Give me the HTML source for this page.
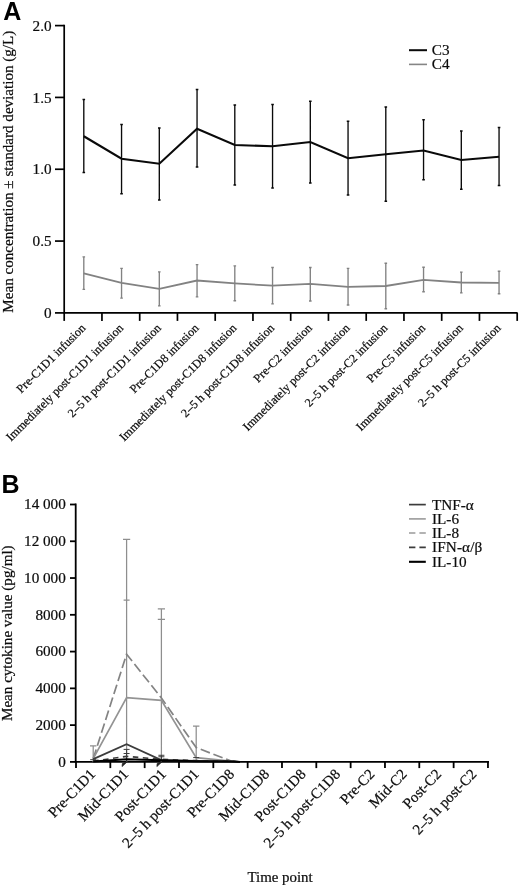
<!DOCTYPE html><html><head><meta charset="utf-8"><title>Figure</title>
<style>html,body{margin:0;padding:0;background:#fff}body{width:520px;height:886px;overflow:hidden}svg{display:block;will-change:transform;transform:translateZ(0)}text{font-family:"Liberation Serif",serif;fill:#0c0c0c;stroke:#0c0c0c;stroke-width:0.22px}.s{font-family:"Liberation Sans",sans-serif;font-weight:bold;fill:#000;stroke:none}</style></head><body>
<svg width="520" height="886" viewBox="0 0 520 886">
<rect width="520" height="886" fill="#fff"/>
<text class="s" x="3.3" y="19.6" font-size="25">A</text>
<text class="s" x="1.4" y="493.3" font-size="25">B</text>
<g stroke="#000" stroke-width="1.7" fill="none">
<path d="M64.2 24.75V312.9H517.6"/>
<path d="M55 25.60H64.2"/>
<path d="M55 97.42H64.2"/>
<path d="M55 169.25H64.2"/>
<path d="M55 241.07H64.2"/>
<path d="M55 312.90H64.2"/>
<path d="M64.20 312.9V320.9"/>
<path d="M101.95 312.9V320.9"/>
<path d="M139.70 312.9V320.9"/>
<path d="M177.45 312.9V320.9"/>
<path d="M215.20 312.9V320.9"/>
<path d="M252.95 312.9V320.9"/>
<path d="M290.70 312.9V320.9"/>
<path d="M328.45 312.9V320.9"/>
<path d="M366.20 312.9V320.9"/>
<path d="M403.95 312.9V320.9"/>
<path d="M441.70 312.9V320.9"/>
<path d="M479.45 312.9V320.9"/>
<path d="M517.20 312.9V320.9"/>
</g>
<text x="51.6" y="30.70" font-size="15.2" text-anchor="end">2.0</text>
<text x="51.6" y="102.52" font-size="15.2" text-anchor="end">1.5</text>
<text x="51.6" y="174.35" font-size="15.2" text-anchor="end">1.0</text>
<text x="51.6" y="246.17" font-size="15.2" text-anchor="end">0.5</text>
<text x="51.6" y="318.00" font-size="15.2" text-anchor="end">0</text>
<text transform="translate(13.3 171.7) rotate(-90)" font-size="15.1" text-anchor="middle">Mean concentration ± standard deviation (g/L)</text>
<path d="M83.80 256.80V289.40M82.50 256.80h2.6M82.50 289.40h2.6M121.55 268.40V298.10M120.25 268.40h2.6M120.25 298.10h2.6M159.30 271.80V305.90M158.00 271.80h2.6M158.00 305.90h2.6M197.05 264.60V296.90M195.75 264.60h2.6M195.75 296.90h2.6M234.80 265.80V300.70M233.50 265.80h2.6M233.50 300.70h2.6M272.55 267.50V303.80M271.25 267.50h2.6M271.25 303.80h2.6M310.30 267.50V301.00M309.00 267.50h2.6M309.00 301.00h2.6M348.05 268.40V305.00M346.75 268.40h2.6M346.75 305.00h2.6M385.80 263.20V308.70M384.50 263.20h2.6M384.50 308.70h2.6M423.55 267.20V291.70M422.25 267.20h2.6M422.25 291.70h2.6M461.30 272.10V292.90M460.00 272.10h2.6M460.00 292.90h2.6M499.05 271.20V293.70M497.75 271.20h2.6M497.75 293.70h2.6" stroke="#828282" stroke-width="1.35" fill="none"/>
<path d="M83.80 273.30 L121.55 282.80 L159.30 288.80 L197.05 280.50 L234.80 283.40 L272.55 285.70 L310.30 283.90 L348.05 286.80 L385.80 286.00 L423.55 279.90 L461.30 282.50 L499.05 282.80" stroke="#828282" stroke-width="1.8" fill="none" stroke-linejoin="miter"/>
<path d="M83.80 99.50V172.50M82.50 99.50h2.6M82.50 172.50h2.6M121.55 124.50V193.75M120.25 124.50h2.6M120.25 193.75h2.6M159.30 128.00V200.00M158.00 128.00h2.6M158.00 200.00h2.6M197.05 89.50V167.00M195.75 89.50h2.6M195.75 167.00h2.6M234.80 105.00V185.00M233.50 105.00h2.6M233.50 185.00h2.6M272.55 104.50V188.00M271.25 104.50h2.6M271.25 188.00h2.6M310.30 101.25V183.00M309.00 101.25h2.6M309.00 183.00h2.6M348.05 121.25V195.00M346.75 121.25h2.6M346.75 195.00h2.6M385.80 107.00V201.25M384.50 107.00h2.6M384.50 201.25h2.6M423.55 119.75V179.75M422.25 119.75h2.6M422.25 179.75h2.6M461.30 131.00V189.25M460.00 131.00h2.6M460.00 189.25h2.6M499.05 127.50V185.50M497.75 127.50h2.6M497.75 185.50h2.6" stroke="#0a0a0a" stroke-width="1.35" fill="none"/>
<path d="M83.80 136.25 L121.55 158.75 L159.30 163.75 L197.05 128.75 L234.80 145.00 L272.55 146.25 L310.30 142.00 L348.05 158.25 L385.80 154.25 L423.55 150.50 L461.30 160.00 L499.05 156.75" stroke="#0a0a0a" stroke-width="2.1" fill="none" stroke-linejoin="miter"/>
<path d="M409 50.2H427" stroke="#0a0a0a" stroke-width="2"/>
<path d="M409 64.4H427" stroke="#858585" stroke-width="1.6"/>
<text x="431.8" y="54.8" font-size="15.2">C3</text>
<text x="431.8" y="69" font-size="15.2">C4</text>
<text transform="translate(86.20 328.8) rotate(-45)" font-size="12.1" text-anchor="end">Pre-C1D1 infusion</text>
<text transform="translate(123.95 328.8) rotate(-45)" font-size="12.1" text-anchor="end">Immediately post-C1D1 infusion</text>
<text transform="translate(161.70 328.8) rotate(-45)" font-size="12.1" text-anchor="end">2–5 h post-C1D1 infusion</text>
<text transform="translate(199.45 328.8) rotate(-45)" font-size="12.1" text-anchor="end">Pre-C1D8 infusion</text>
<text transform="translate(237.20 328.8) rotate(-45)" font-size="12.1" text-anchor="end">Immediately post-C1D8 infusion</text>
<text transform="translate(274.95 328.8) rotate(-45)" font-size="12.1" text-anchor="end">2–5 h post-C1D8 infusion</text>
<text transform="translate(312.70 328.8) rotate(-45)" font-size="12.1" text-anchor="end">Pre-C2 infusion</text>
<text transform="translate(350.45 328.8) rotate(-45)" font-size="12.1" text-anchor="end">Immediately post-C2 infusion</text>
<text transform="translate(388.20 328.8) rotate(-45)" font-size="12.1" text-anchor="end">2–5 h post-C2 infusion</text>
<text transform="translate(425.95 328.8) rotate(-45)" font-size="12.1" text-anchor="end">Pre-C5 infusion</text>
<text transform="translate(463.70 328.8) rotate(-45)" font-size="12.1" text-anchor="end">Immediately post-C5 infusion</text>
<text transform="translate(501.45 328.8) rotate(-45)" font-size="12.1" text-anchor="end">2–5 h post-C5 infusion</text>
<g stroke="#000" stroke-width="1.8" fill="none">
<path d="M75.7 503.6V761.9H489"/>
<path d="M70 504.50H75.7"/>
<path d="M70 541.27H75.7"/>
<path d="M70 578.04H75.7"/>
<path d="M70 614.81H75.7"/>
<path d="M70 651.59H75.7"/>
<path d="M70 688.36H75.7"/>
<path d="M70 725.13H75.7"/>
<path d="M70 761.90H75.7"/>
<path d="M76.00 761.9V768.1"/>
<path d="M110.33 761.9V768.1"/>
<path d="M144.66 761.9V768.1"/>
<path d="M178.99 761.9V768.1"/>
<path d="M213.32 761.9V768.1"/>
<path d="M247.65 761.9V768.1"/>
<path d="M281.98 761.9V768.1"/>
<path d="M316.31 761.9V768.1"/>
<path d="M350.64 761.9V768.1"/>
<path d="M384.97 761.9V768.1"/>
<path d="M419.30 761.9V768.1"/>
<path d="M453.63 761.9V768.1"/>
<path d="M487.96 761.9V768.1"/>
</g>
<text x="65.8" y="509.20" font-size="15.2" text-anchor="end">14 000</text>
<text x="65.8" y="545.97" font-size="15.2" text-anchor="end">12 000</text>
<text x="65.8" y="582.74" font-size="15.2" text-anchor="end">10 000</text>
<text x="65.8" y="619.51" font-size="15.2" text-anchor="end">8000</text>
<text x="65.8" y="656.29" font-size="15.2" text-anchor="end">6000</text>
<text x="65.8" y="693.06" font-size="15.2" text-anchor="end">4000</text>
<text x="65.8" y="729.83" font-size="15.2" text-anchor="end">2000</text>
<text x="65.8" y="766.60" font-size="15.2" text-anchor="end">0</text>
<text transform="translate(11.8 633.2) rotate(-90)" font-size="15.1" text-anchor="middle">Mean cytokine value (pg/ml)</text>
<text x="280.1" y="881.6" font-size="14.9" text-anchor="middle">Time point</text>
<path d="M93.20 761.90V745.90M90.00 745.90h6.4M126.60 761.90V539.43M123.00 539.43h7.2M123.60 600.11h6M161.40 761.90V608.75M157.80 608.75h7.2M157.80 619.41h7.2M196.20 761.90V726.05M193.00 726.05h6.4" stroke="#8e8e8e" stroke-width="1.25" fill="none"/>
<path d="M93.20 758.77 L126.60 654.16 L161.40 697.92 L196.20 747.56 L230.53 760.80 L240 761.90" stroke="#838383" stroke-width="1.7" fill="none" stroke-dasharray="9.8 3.8"/>
<path d="M93.20 758.59 L126.60 697.55 L161.40 700.31 L196.20 757.58 L230.53 761.16 L240 761.90" stroke="#939393" stroke-width="1.7" fill="none"/>
<path d="M93.20 759.14 L126.60 744.25 L161.40 760.06 L196.20 760.80 L230.53 761.35 L240 761.90" stroke="#3c3c3c" stroke-width="1.7" fill="none"/>
<path d="M123.60 749.40h6M123.60 753.50h6M158.40 755.28h6M158.40 756.75h6M90.20 759.69h6M193.20 757.58h6M126.60 749.40V761.90M161.40 755.28V761.90" stroke="#3c3c3c" stroke-width="1.0" fill="none"/>
<path d="M93.20 761.16 L126.60 756.38 L161.40 759.33 L196.20 760.61 L230.53 761.16 L240 761.90" stroke="#3c3c3c" stroke-width="1.6" fill="none" stroke-dasharray="5.5 4.5"/>
<path d="M93.20 761.53 L126.60 759.14 L161.40 760.25 L196.20 761.16 L230.53 761.53 L240 761.90" stroke="#000" stroke-width="2" fill="none"/>
<path d="M127.10 761.9l-5 4.6l0.3 -3z M161.90 761.9l-5 4.6l0.3 -3z" fill="#222" stroke="#222" stroke-width="0.8"/>
<path d="M409 504.6H425.8" stroke="#3c3c3c" stroke-width="1.7"/>
<path d="M409 518.9H425.8" stroke="#9a9a9a" stroke-width="1.6"/>
<path d="M409 533.0H425.8" stroke="#9a9a9a" stroke-width="1.6" stroke-dasharray="6.4 4"/>
<path d="M409 547.4H425.8" stroke="#3c3c3c" stroke-width="1.6" stroke-dasharray="6.4 4"/>
<path d="M409 561.8H425.8" stroke="#000" stroke-width="2.1"/>
<text x="432" y="509.50" font-size="15.2">TNF-α</text>
<text x="432" y="523.80" font-size="15.2">IL-6</text>
<text x="432" y="537.90" font-size="15.2">IL-8</text>
<text x="432" y="552.30" font-size="15.2" textLength="50.3">IFN-α/β</text>
<text x="432" y="566.70" font-size="15.2">IL-10</text>
<text transform="translate(96.16 774.9) rotate(-46)" font-size="14.9" text-anchor="end">Pre-C1D1</text>
<text transform="translate(129.29 774.9) rotate(-46)" font-size="14.9" text-anchor="end">Mid-C1D1</text>
<text transform="translate(166.92 774.9) rotate(-46)" font-size="14.9" text-anchor="end">Post-C1D1</text>
<text transform="translate(199.56 774.9) rotate(-46)" font-size="14.9" text-anchor="end">2–5 h post-C1D1</text>
<text transform="translate(235.08 774.9) rotate(-46)" font-size="14.9" text-anchor="end">Pre-C1D8</text>
<text transform="translate(270.12 774.9) rotate(-46)" font-size="14.9" text-anchor="end">Mid-C1D8</text>
<text transform="translate(306.75 774.9) rotate(-46)" font-size="14.9" text-anchor="end">Post-C1D8</text>
<text transform="translate(341.07 774.9) rotate(-46)" font-size="14.9" text-anchor="end">2–5 h post-C1D8</text>
<text transform="translate(375.41 774.9) rotate(-46)" font-size="14.9" text-anchor="end">Pre-C2</text>
<text transform="translate(407.74 774.9) rotate(-46)" font-size="14.9" text-anchor="end">Mid-C2</text>
<text transform="translate(442.06 774.9) rotate(-46)" font-size="14.9" text-anchor="end">Post-C2</text>
<text transform="translate(477.39 774.9) rotate(-46)" font-size="14.9" text-anchor="end">2–5 h post-C2</text>
</svg></body></html>
